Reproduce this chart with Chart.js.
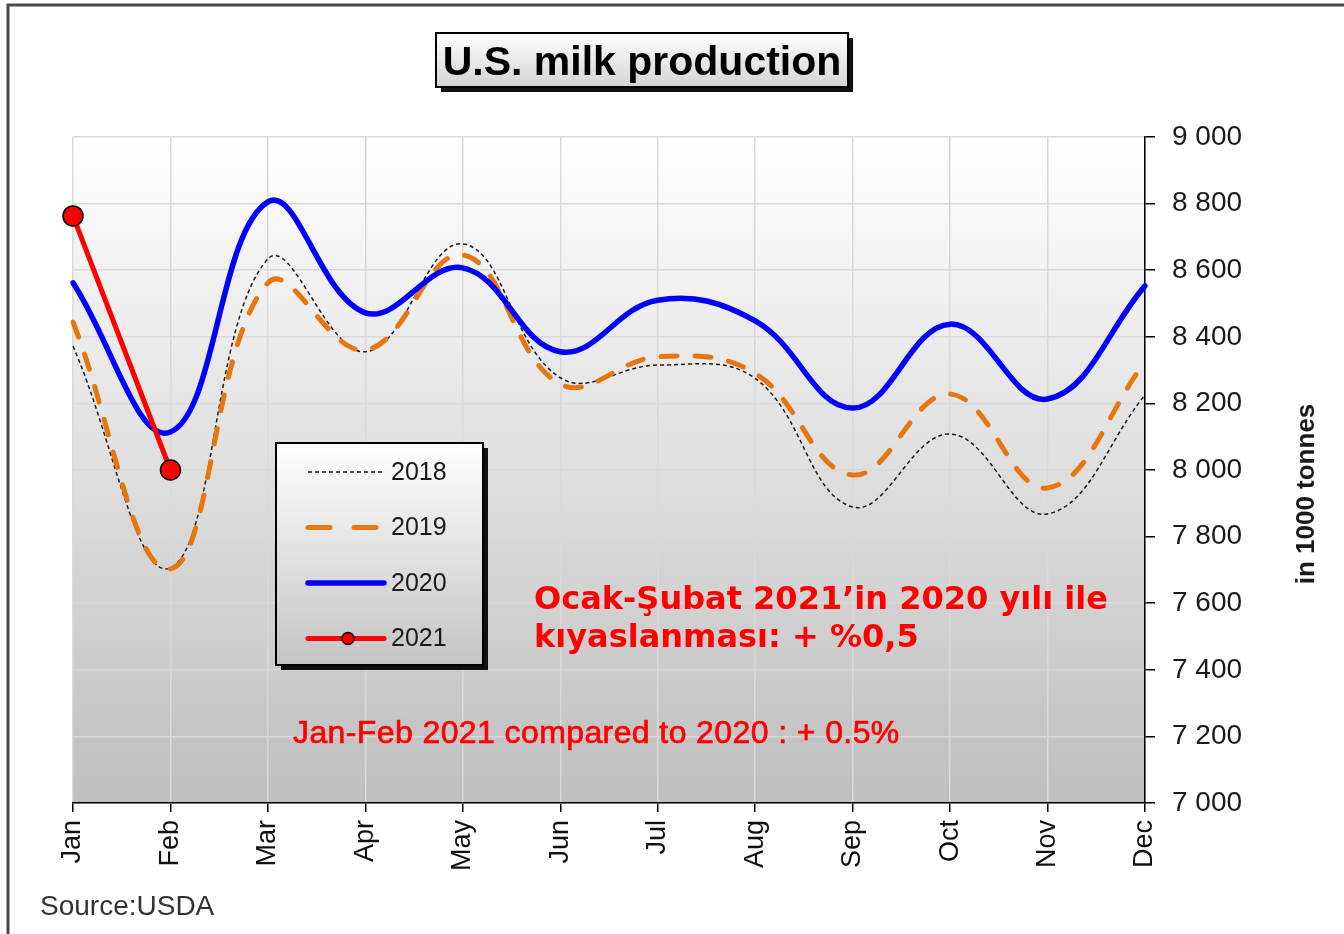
<!DOCTYPE html>
<html>
<head>
<meta charset="utf-8">
<script src="https://cdn.jsdelivr.net/npm/chart.js@4.4.1/dist/chart.umd.min.js"></script>
<style>
  html, body { margin: 0; padding: 0; background: #fff; }
  #wrap { width: 1344px; height: 934px; }
</style>
</head>
<body>
<div id="wrap"><canvas id="milkChart"></canvas></div>
<script>
// monthly US milk production, in 1000 tonnes
const months = ['Jan', 'Feb', 'Mar', 'Apr', 'May', 'Jun', 'Jul', 'Aug', 'Sep', 'Oct', 'Nov', 'Dec'];
const milk2018 = [8372, 7706, 8634, 8355, 8679, 8277, 8315, 8275, 7889, 8108, 7868, 8225];
const milk2019 = [8444, 7703, 8562, 8360, 8646, 8258, 8340, 8290, 7985, 8228, 7946, 8324];
const milk2020 = [8562, 8114, 8805, 8472, 8607, 8355, 8510, 8448, 8186, 8438, 8213, 8553];
const milk2021 = [8763, 8000];
const yMin = 7000, yMax = 9000, yStep = 200;

const titleText = 'U.S. milk production';
const unitText = 'in 1000 tonnes';
const sourceText = 'Source:USDA';
const noteTr = ['Ocak-Şubat 2021’in 2020 yılı ile', 'kıyaslanması: + %0,5'];
const noteEn = 'Jan-Feb 2021 compared to 2020 : + 0.5%';

const SANS = '"Liberation Sans", Arial, sans-serif';

function fmtThousands(v) {
  return String(v).replace(/\B(?=(\d{3})+(?!\d))/g, ' ');
}

function shadowBox(ctx, x, y, w, h, bottomColor) {
  ctx.fillStyle = '#111';
  ctx.fillRect(x + 5, y + 5, w, h);
  const g = ctx.createLinearGradient(0, y, 0, y + h);
  g.addColorStop(0, '#ffffff');
  g.addColorStop(1, bottomColor);
  ctx.fillStyle = g;
  ctx.fillRect(x, y, w, h);
  ctx.lineWidth = 2;
  ctx.strokeStyle = '#000';
  ctx.strokeRect(x, y, w, h);
}

const decor = {
  id: 'decor',
  beforeDraw(chart) {
    const { ctx, chartArea: a } = chart;
    ctx.save();
    const g = ctx.createLinearGradient(0, a.top, 0, a.bottom);
    g.addColorStop(0, '#ffffff');
    g.addColorStop(1, '#bebebe');
    ctx.fillStyle = g;
    ctx.fillRect(a.left, a.top, a.right - a.left, a.bottom - a.top);
    ctx.restore();
  },
  afterDraw(chart) {
    const { ctx } = chart;
    ctx.save();

    // outer frame
    ctx.strokeStyle = '#4a4a4a';
    ctx.lineWidth = 3;
    ctx.beginPath();
    ctx.moveTo(8, 934);
    ctx.lineTo(8, 5);
    ctx.lineTo(1344, 5);
    ctx.stroke();

    // title box
    shadowBox(ctx, 436, 33, 412, 54, '#d4d4d4');
    ctx.fillStyle = '#000';
    ctx.font = 'bold 41px ' + SANS;
    ctx.textAlign = 'center';
    ctx.textBaseline = 'alphabetic';
    ctx.fillText(titleText, 642, 75);

    // legend box
    shadowBox(ctx, 276, 443, 207, 222, '#c4c4c4');
    chart.data.datasets.forEach((ds, i) => {
      const y = 472 + i * 55.5;
      ctx.save();
      ctx.strokeStyle = ds.borderColor;
      ctx.lineWidth = ds.borderWidth;
      ctx.lineCap = ds.borderCapStyle || 'butt';
      ctx.setLineDash(ds.legendDash || ds.borderDash || []);
      ctx.beginPath();
      ctx.moveTo(308, y);
      ctx.lineTo(384, y);
      ctx.stroke();
      if (ds.pointRadius) {
        ctx.setLineDash([]);
        ctx.beginPath();
        ctx.arc(348, y, 6, 0, Math.PI * 2);
        ctx.fillStyle = ds.pointBackgroundColor;
        ctx.fill();
        ctx.lineWidth = 1.5;
        ctx.strokeStyle = ds.pointBorderColor;
        ctx.stroke();
      }
      ctx.restore();
      ctx.fillStyle = '#1a1a1a';
      ctx.font = '25px ' + SANS;
      ctx.textAlign = 'left';
      ctx.textBaseline = 'middle';
      ctx.fillText(ds.label, 391, y + 1);
    });

    // red notes
    ctx.fillStyle = '#ff0000';
    ctx.textAlign = 'left';
    ctx.textBaseline = 'alphabetic';
    ctx.font = 'bold 32px "DejaVu Sans", Verdana, sans-serif';
    ctx.fillText(noteTr[0], 534, 609);
    ctx.fillText(noteTr[1], 534, 647);
    ctx.font = '32px ' + SANS;
    ctx.letterSpacing = '0.4px';
    ctx.strokeStyle = '#ff0000';
    ctx.lineWidth = 0.7;
    ctx.fillText(noteEn, 293, 743);
    ctx.strokeText(noteEn, 293, 743);
    ctx.letterSpacing = '0px';

    // unit label on the right
    ctx.save();
    ctx.translate(1307, 494);
    ctx.rotate(-Math.PI / 2);
    ctx.fillStyle = '#1a1a1a';
    ctx.font = 'bold 26px ' + SANS;
    ctx.textAlign = 'center';
    ctx.textBaseline = 'middle';
    ctx.fillText(unitText, 0, 0);
    ctx.restore();

    // source
    ctx.fillStyle = '#333';
    ctx.font = '28px ' + SANS;
    ctx.textAlign = 'left';
    ctx.fillText(sourceText, 40, 915);

    ctx.restore();
  }
};

const gridStyle = { color: '#d9d9d9', lineWidth: 1.5, tickColor: '#000', drawTicks: true };

new Chart(document.getElementById('milkChart').getContext('2d'), {
  type: 'line',
  data: {
    labels: months,
    datasets: [
      {
        label: '2018', data: milk2018,
        borderColor: '#1a1a1a', borderWidth: 1.5, borderDash: [4, 3],
        pointRadius: 0, tension: 0.4, order: 3
      },
      {
        label: '2019', data: milk2019,
        borderColor: '#e8760f', borderWidth: 5, borderDash: [16, 18], borderCapStyle: 'round',
        legendDash: [22, 24],
        pointRadius: 0, tension: 0.4, order: 2
      },
      {
        label: '2020', data: milk2020,
        borderColor: '#0000ff', borderWidth: 5.5, borderCapStyle: 'round',
        pointRadius: 0, tension: 0.4, order: 1
      },
      {
        label: '2021', data: milk2021,
        borderColor: '#ff0000', borderWidth: 5, borderCapStyle: 'round',
        pointRadius: 10, pointBackgroundColor: '#ff0000', pointBorderColor: '#000', pointBorderWidth: 1.5,
        tension: 0, order: 0, clip: false
      }
    ]
  },
  options: {
    responsive: true,
    maintainAspectRatio: false,
    animation: false,
    devicePixelRatio: 1,
    layout: { padding: { left: 73, top: 137, right: 0, bottom: 0 } },
    plugins: {
      legend: { display: false },
      title: { display: false },
      tooltip: { enabled: false }
    },
    scales: {
      x: {
        offset: false,
        grid: Object.assign({ tickLength: 9 }, gridStyle),
        border: { color: '#000', width: 1.5 },
        ticks: {
          autoSkip: false, minRotation: 90, maxRotation: 90, padding: 8,
          color: '#111', font: { family: SANS, size: 27 }
        },
        afterFit(scale) { scale.height = 131; }
      },
      y: {
        position: 'right',
        min: yMin, max: yMax,
        grid: Object.assign({ tickLength: 10 }, gridStyle),
        border: { color: '#000', width: 1.5 },
        ticks: {
          stepSize: yStep, padding: 17,
          color: '#1a1a1a', font: { family: SANS, size: 28 },
          callback: v => fmtThousands(v)
        },
        afterFit(scale) { scale.width = 199; }
      }
    }
  },
  plugins: [decor]
});
</script>
</body>
</html>
